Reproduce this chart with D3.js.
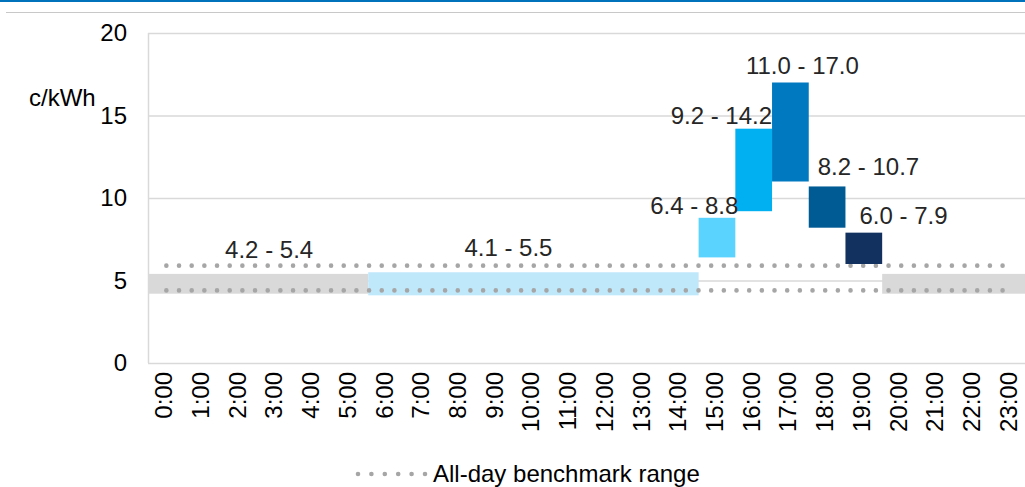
<!DOCTYPE html>
<html>
<head>
<meta charset="utf-8">
<script src="https://cdn.jsdelivr.net/npm/d3@7/dist/d3.min.js"></script>
<style>
  html, body { margin: 0; padding: 0; background: #ffffff; }
  svg { display: block; font-family: "Liberation Sans", Arial, sans-serif; }
</style>
</head>
<body>
<svg id="chart" width="1025" height="487"></svg>
<script>
// Hours of the day (category axis)
const hours = ["0:00","1:00","2:00","3:00","4:00","5:00","6:00","7:00","8:00","9:00","10:00","11:00",
               "12:00","13:00","14:00","15:00","16:00","17:00","18:00","19:00","20:00","21:00","22:00","23:00"];

// Off-peak / shoulder price ranges (c/kWh)
const bandStart = ["0:00", "6:00", "20:00"];
const bandEnd   = ["5:00", "14:00", "23:00"];
const bandLow   = [4.2, 4.1, 4.2];
const bandHigh  = [5.4, 5.5, 5.4];
const bandLabel = ["4.2 - 5.4", "4.1 - 5.5", ""];

// Peak hour price ranges (c/kWh)
const peakHours = ["15:00", "16:00", "17:00", "18:00", "19:00"];
const peakLow   = [6.4, 9.2, 11.0, 8.2, 6.0];
const peakHigh  = [8.8, 14.2, 17.0, 10.7, 7.9];

// All-day benchmark range (c/kWh)
const benchmarkLow  = 4.4;
const benchmarkHigh = 5.9;

const yTicks = [0, 5, 10, 15, 20];

// ---- layout ----
const svg = d3.select("#chart");
const plotLeft = 148, plotRight = 1029, plotTop = 33, plotBottom = 363;
const fontSize = 24;

const x = d3.scaleBand().domain(hours).range([plotLeft, plotRight]).padding(0);
const y = d3.scaleLinear().domain([0, 20]).range([plotBottom, plotTop]);
const bw = x.bandwidth();
const cx = h => x(h) + bw / 2;

const gridColor = "#d9d9d9";
const dotColor = "#a6a6a6";
const peakColors = ["#5ad3ff", "#00b0f0", "#0079c1", "#005b94", "#13315f"];
const bandColors = ["#d9d9d9", "#c0e8fb", "#d9d9d9"];

// header rules
svg.append("rect").attr("x", 0).attr("y", 0).attr("width", 1025).attr("height", 2).attr("fill", "#0072bc");
svg.append("line").attr("x1", 6).attr("x2", 1025).attr("y1", 12.5).attr("y2", 12.5)
  .attr("stroke", "#c8c8c8").attr("stroke-width", 1);

// gridlines
svg.append("g")
  .attr("transform", `translate(${plotLeft},0)`)
  .call(d3.axisLeft(y).tickValues(yTicks).tickSize(-(plotRight - plotLeft)).tickFormat(""))
  .call(g => g.select(".domain").remove())
  .call(g => g.selectAll("line").attr("stroke", gridColor).attr("stroke-width", 1.5));

// left frame line
svg.append("line").attr("x1", plotLeft + 0.5).attr("x2", plotLeft + 0.5).attr("y1", plotTop).attr("y2", plotBottom)
  .attr("stroke", gridColor).attr("stroke-width", 1.5);

// off-peak range bands
const bands = bandStart.map((s, i) => ({ s, e: bandEnd[i], lo: bandLow[i], hi: bandHigh[i], label: bandLabel[i] }));
svg.append("g").selectAll("rect").data(bands).join("rect")
  .attr("x", d => x(d.s))
  .attr("width", d => x(d.e) + bw - x(d.s))
  .attr("y", d => y(d.hi))
  .attr("height", d => y(d.lo) - y(d.hi))
  .attr("fill", (d, i) => bandColors[i]);

// benchmark dotted lines
const dotted = (sel) => sel.attr("stroke", dotColor).attr("stroke-width", 4.6)
  .attr("stroke-linecap", "round").attr("stroke-dasharray", "0 12.67").attr("fill", "none");
[benchmarkHigh, benchmarkLow].forEach(v => {
  svg.append("path")
    .attr("d", d3.line().x(h => cx(h)).y(() => y(v))([hours[0], hours[hours.length - 1]]))
    .call(dotted);
});

// peak bars
const peaks = peakHours.map((h, i) => ({ h, lo: peakLow[i], hi: peakHigh[i] }));
svg.append("g").selectAll("rect").data(peaks).join("rect")
  .attr("x", d => x(d.h))
  .attr("width", bw)
  .attr("y", d => y(d.hi))
  .attr("height", d => y(d.lo) - y(d.hi))
  .attr("fill", (d, i) => peakColors[i]);

// labels for the range bands
const bandLabelDx = [11, -25, 0];
svg.append("g").selectAll("text").data(bands.filter(d => d.label)).join("text")
  .attr("x", (d, i) => (x(d.s) + x(d.e) + bw) / 2 + bandLabelDx[i])
  .attr("y", d => y(d.hi) - 16)
  .attr("text-anchor", "middle")
  .attr("font-size", fontSize)
  .attr("fill", "#262626")
  .text(d => d.label);

// labels for the peak bars
const peakLabelPlace = [
  { anchor: "end",    dx: 3,  dy: -4 },
  { anchor: "end",    dx: 0,  dy: -5 },
  { anchor: "middle", dx: 12, dy: -9 },
  { anchor: "start",  dx: 9,  dy: -11 },
  { anchor: "start",  dx: 14, dy: -9 }
];
svg.append("g").selectAll("text").data(peaks).join("text")
  .attr("x", (d, i) => {
    const p = peakLabelPlace[i];
    const base = p.anchor === "end" ? x(d.h) + bw : p.anchor === "start" ? x(d.h) : cx(d.h);
    return base + p.dx;
  })
  .attr("y", (d, i) => y(d.hi) + peakLabelPlace[i].dy)
  .attr("text-anchor", (d, i) => peakLabelPlace[i].anchor)
  .attr("font-size", fontSize)
  .attr("fill", "#262626")
  .text(d => `${d.lo.toFixed(1)} - ${d.hi.toFixed(1)}`);

// y axis labels
svg.append("g")
  .attr("transform", `translate(${plotLeft},0)`)
  .call(d3.axisLeft(y).tickValues(yTicks).tickSize(0).tickPadding(21))
  .call(g => g.select(".domain").remove())
  .call(g => g.selectAll("text").attr("font-size", fontSize).attr("fill", "#000")
    .attr("font-family", "Liberation Sans, Arial, sans-serif"));

// unit label
svg.append("text").attr("x", 29).attr("y", 106).attr("font-size", fontSize).attr("fill", "#000").text("c/kWh");

// x axis labels
svg.append("g")
  .attr("transform", `translate(0,${plotBottom})`)
  .call(d3.axisBottom(x).tickSize(0))
  .call(g => g.select(".domain").remove())
  .call(g => g.selectAll("text")
    .attr("font-size", fontSize).attr("fill", "#000")
    .attr("font-family", "Liberation Sans, Arial, sans-serif")
    .attr("transform", "rotate(-90)")
    .attr("text-anchor", "end")
    .attr("x", -9).attr("y", 0).attr("dy", "0.25em"));

// legend
svg.append("path")
  .attr("d", d3.line()([[358, 474], [426, 474]]))
  .attr("stroke", dotColor).attr("stroke-width", 4.6)
  .attr("stroke-linecap", "round").attr("stroke-dasharray", "0 13.4").attr("fill", "none");
svg.append("text").attr("x", 433).attr("y", 482).attr("font-size", fontSize).attr("fill", "#000")
  .text("All-day benchmark range");
</script>
</body>
</html>
